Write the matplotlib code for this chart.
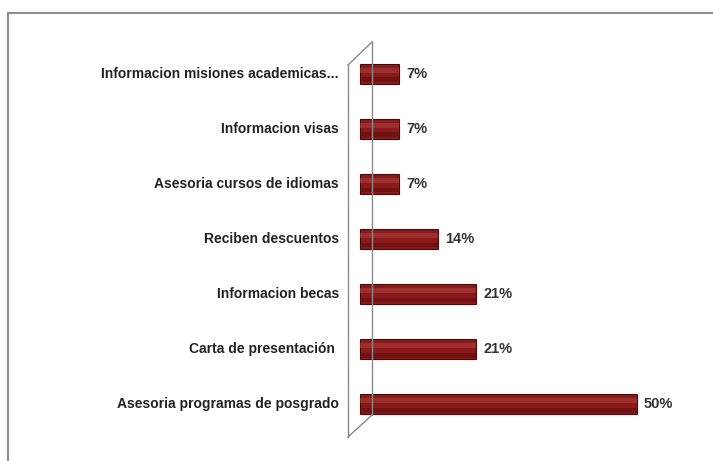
import matplotlib.pyplot as plt
from matplotlib.lines import Line2D

# categories, bottom to top
categories = [
    "Asesoria programas de posgrado",
    "Carta de presentación ",
    "Informacion becas",
    "Reciben descuentos",
    "Asesoria cursos de idiomas",
    "Informacion visas",
    "Informacion misiones academicas...",
]
values = [50, 21, 21, 14, 7, 7, 7]
value_labels = ["50%", "21%", "21%", "14%", "7%", "7%", "7%"]

W, H = 713, 461
fig = plt.figure(figsize=(W / 100, H / 100), dpi=100)
fig.patch.set_facecolor("white")

def fx(px):
    return px / W

def fy(py):
    return 1 - py / H

# plot area: x from 348 to 700 px, y from 42 to 437 px
ax = fig.add_axes([fx(348), fy(437), fx(700) - fx(348), fy(42) - fy(437)])
ax.set_xlim(-2.17, 61.4)
ax.set_ylim(-0.6, 6.58)
ax.axis("off")

pos = list(range(len(categories)))

# cylinder-ish bars: dark body, lighter highlight band, darker underside
ax.barh(pos, values, height=0.36, color="#8a1a1a", edgecolor="#4a0a0a", linewidth=0.8)
ax.barh([p + 0.06 for p in pos], values, height=0.1, color="#ad4040", linewidth=0, alpha=0.55)
ax.barh([p - 0.11 for p in pos], values, height=0.09, color="#5a0c0c", linewidth=0, alpha=0.5)

for p, v, lab in zip(pos, values, value_labels):
    ax.text(v + 1.3, p, lab, va="center", ha="left", fontsize=10.5,
            fontweight="bold", color="#333333", family="Liberation Sans")

# category labels
for p, cat in zip(pos, categories):
    ax.text(-3.8, p, cat, va="center", ha="right", fontsize=10,
            fontweight="bold", color="#222222", family="Liberation Sans",
            clip_on=False)

# 3D side wall
wall_color = "#8a8a8a"
for xs, ys in [
    ((348, 348), (65, 437)),
    ((372, 372), (42, 415)),
    ((348, 372), (65, 42)),
    ((348, 372), (437, 415)),
]:
    fig.add_artist(Line2D([fx(x) for x in xs], [fy(y) for y in ys],
                          color=wall_color, linewidth=1.0))

# outer frame (top and left edges)
fig.add_artist(Line2D([fx(8), fx(713)], [fy(13), fy(13)], color="#8c8c8c", linewidth=1.5))
fig.add_artist(Line2D([fx(8), fx(8)], [fy(13), fy(461)], color="#8c8c8c", linewidth=1.5))

fig.savefig("out.png", dpi=100)
